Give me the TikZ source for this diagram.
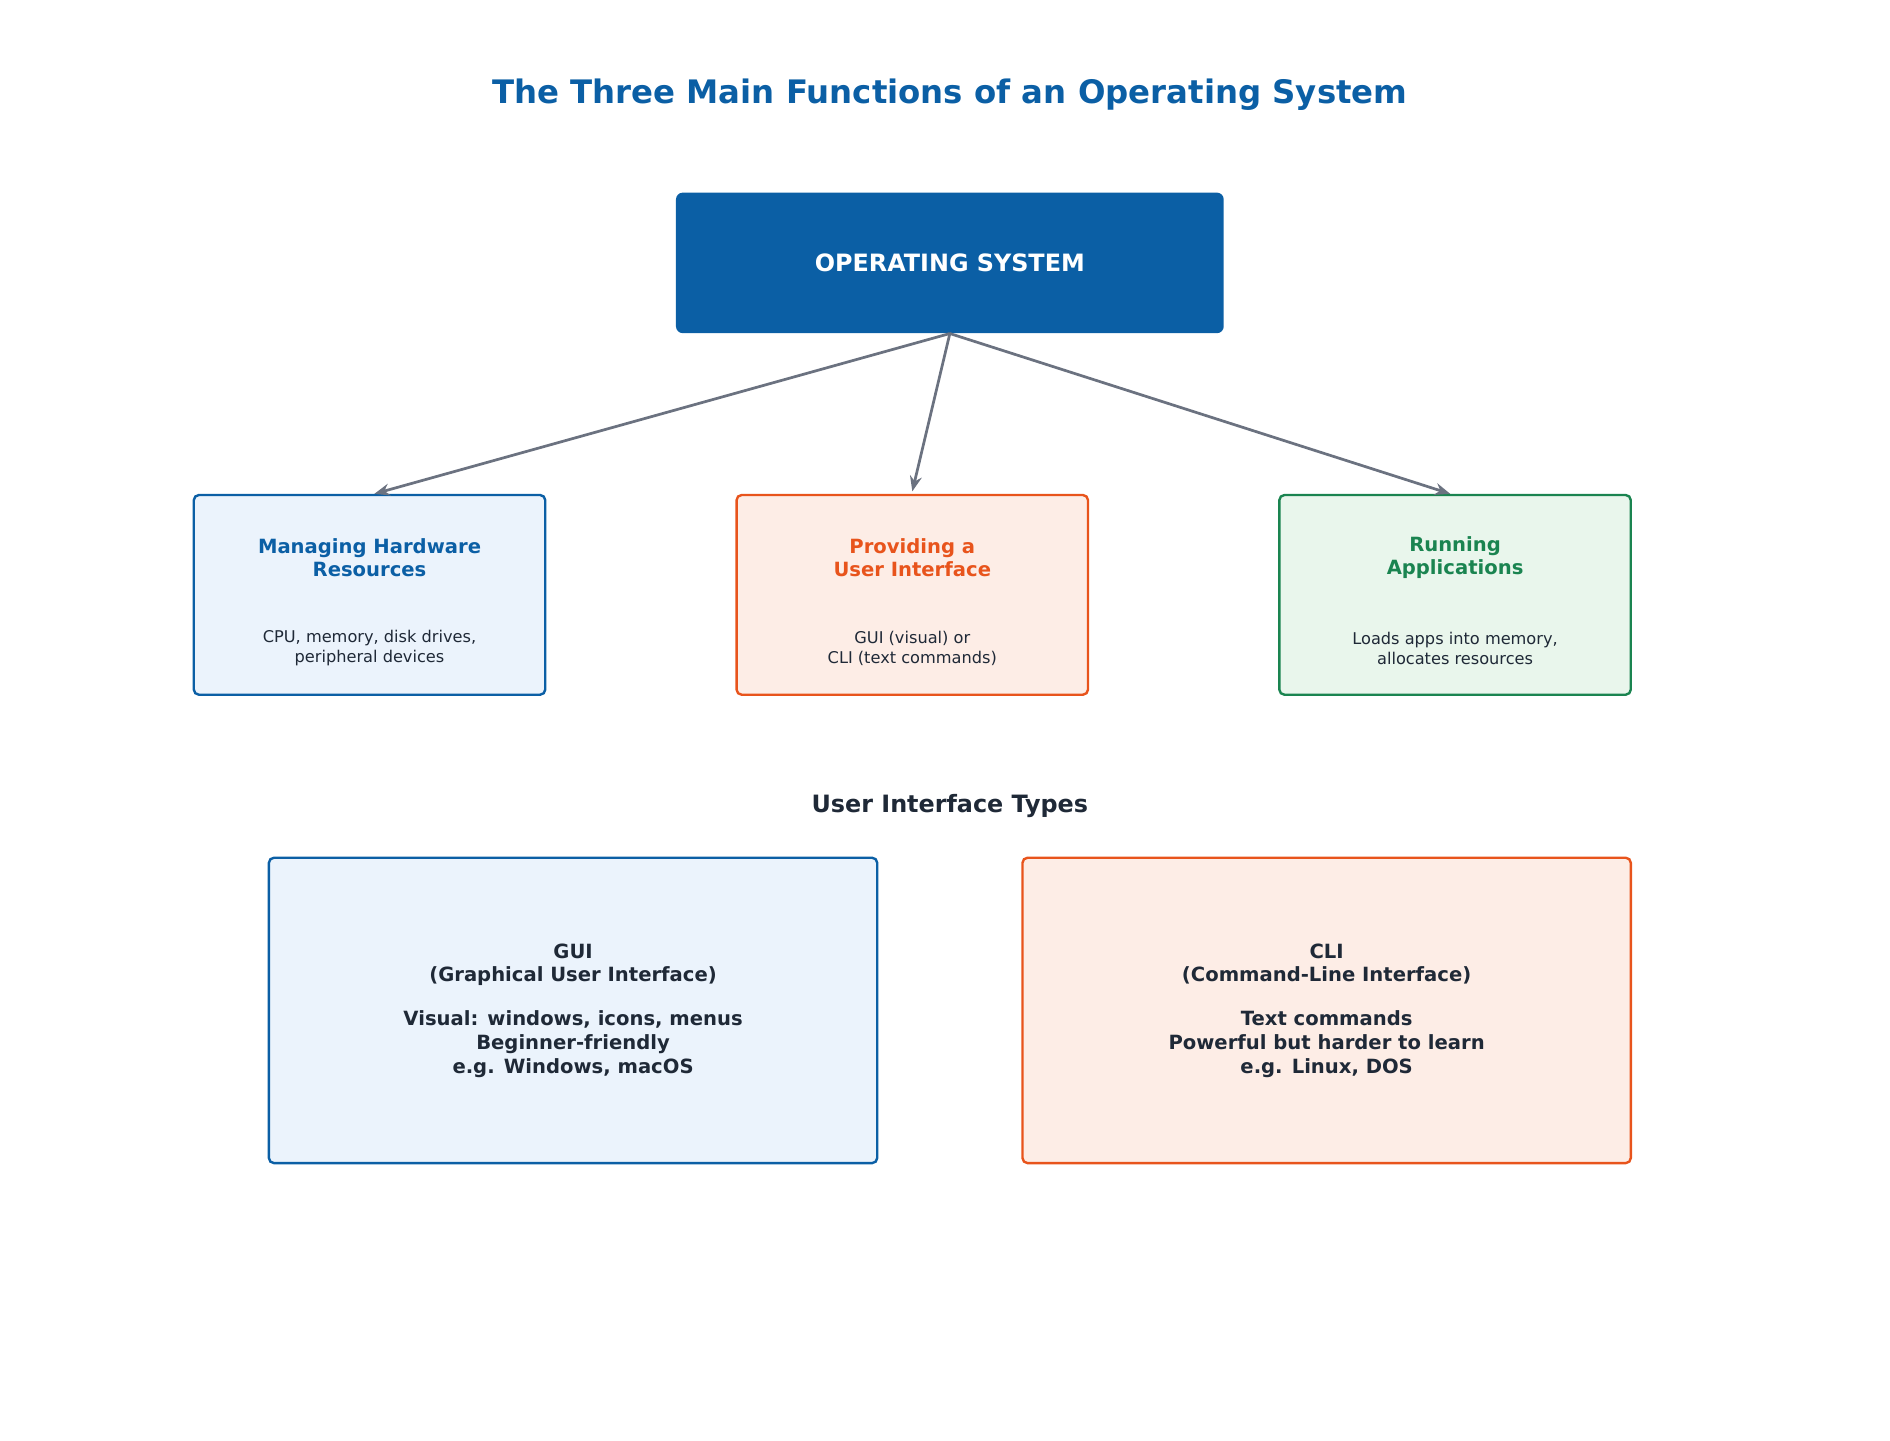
\documentclass[tikz,border=0pt]{standalone}
\usepackage{fontspec}
\setmainfont{DejaVu Sans}
\usetikzlibrary{arrows.meta}
\definecolor{osblue}{HTML}{0B5FA5}
\definecolor{osorange}{HTML}{E8541C}
\definecolor{osgreen}{HTML}{1A8450}
\definecolor{fillblue}{HTML}{EBF3FC}
\definecolor{fillorange}{HTML}{FDEDE6}
\definecolor{fillgreen}{HTML}{E9F6EC}
\definecolor{darktext}{HTML}{1F2937}
\definecolor{arrowgray}{HTML}{6B7280}
\begin{document}
\begin{tikzpicture}[x=0.025cm, y=-0.025cm]
\tikzset{
  FuncBox/.style = {draw, line width=1.4pt, rounded corners=3pt,
                    minimum width=7.25cm, minimum height=4.12cm},
  TypeBox/.style = {draw, line width=1.4pt, rounded corners=3pt,
                    minimum width=12.55cm, minimum height=6.3cm,
                    align=center, font=\bfseries\fontsize{11.5}{14}\selectfont, text=darktext},
  FuncTitle/.style = {align=center, font=\bfseries\fontsize{11.5}{13.5}\selectfont},
  FuncText/.style = {align=center, text=darktext, font=\fontsize{9.5}{11.5}\selectfont},
  Link/.style = {draw=arrowgray, line width=1.6pt, -{Stealth[length=9pt,width=7pt]}}
}
\useasboundingbox (0,0) rectangle (1560,1189);
\node[text=osblue, font=\bfseries\fontsize{19}{22}\selectfont] (title) at (784,78)
  {The Three Main Functions of an Operating System};
\node[fill=osblue, rounded corners=4pt, minimum width=11.3cm, minimum height=2.9cm,
  text=white, font=\bfseries\fontsize{14}{16}\selectfont] (os) at (784,217) {OPERATING SYSTEM};
% functions
\node[FuncBox, draw=osblue, fill=fillblue] (hw) at (305,491) {};
\node[FuncBox, draw=osorange, fill=fillorange] (ui) at (753,491) {};
\node[FuncBox, draw=osgreen, fill=fillgreen] (apps) at (1201,491) {};
\node[FuncTitle, text=osblue] (hwtitle) at (305,460) {Managing Hardware\\Resources};
\node[FuncText] (hwtext) at (305,535) {CPU, memory, disk drives,\\peripheral devices};
\node[FuncTitle, text=osorange] (uititle) at (753,460) {Providing a\\User Interface};
\node[FuncText] (uitext) at (753,535) {GUI (visual) or\\CLI (text commands)};
\node[FuncTitle, text=osgreen] (appstitle) at (1201,460) {Running\\Applications};
\node[FuncText] (appstext) at (1201,535) {Loads apps into memory,\\allocates resources};
\draw[Link] (os.south) -- ([xshift=0.1cm]hw.north);
\draw[Link] (os.south) -- ([yshift=0.05cm]ui.north);
\draw[Link] (os.south) -- ([xshift=-0.1cm]apps.north);
% interface types
\node[text=darktext, font=\bfseries\fontsize{14}{16}\selectfont] (types) at (784,665) {User Interface Types};
\node[TypeBox, draw=osblue, fill=fillblue] (gui) at (473,834)
  {GUI\\(Graphical User Interface)\\[1em]Visual: windows, icons, menus\\Beginner-friendly\\e.g. Windows, macOS};
\node[TypeBox, draw=osorange, fill=fillorange] (cli) at (1095,834)
  {CLI\\(Command-Line Interface)\\[1em]Text commands\\Powerful but harder to learn\\e.g. Linux, DOS};
\end{tikzpicture}
\end{document}
